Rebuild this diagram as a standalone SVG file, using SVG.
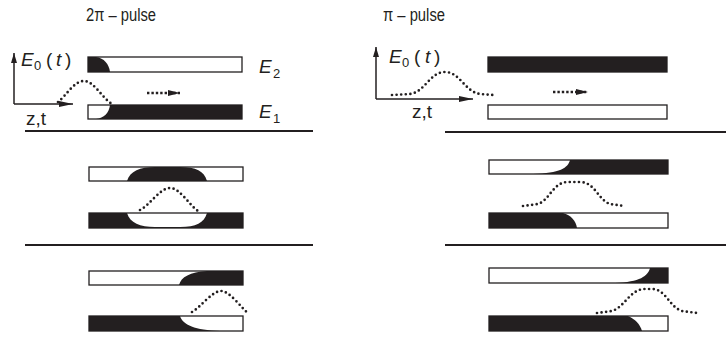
<svg xmlns="http://www.w3.org/2000/svg" width="726" height="338" viewBox="0 0 726 338">
<style>
text{font-family:"Liberation Sans",Arial,sans-serif;fill:#231f20}
.t{font-size:18px}
.l{font-size:19px}
.s{font-size:13px}
.i{font-style:italic}
.bar{fill:none;stroke:#231f20;stroke-width:1.3}
.bk{fill:#231f20}
.wh{fill:#fff}
.pulse{fill:none;stroke:#231f20;stroke-width:2.7;stroke-linecap:round;stroke-dasharray:0 4.6}
.ax{fill:none;stroke:#231f20;stroke-width:1.5}
.sep{stroke:#231f20;stroke-width:2}
.dash{fill:none;stroke:#231f20;stroke-width:2.4;stroke-dasharray:2.4 2}
</style>
<defs>
<marker id="ah" viewBox="0 0 14 6" refX="14" refY="3" markerWidth="14" markerHeight="6" markerUnits="userSpaceOnUse" orient="auto"><path d="M0,0 L14,3 L0,6 Z" fill="#231f20"/></marker>
<marker id="av" viewBox="0 0 10 6" refX="10" refY="3" markerWidth="10" markerHeight="6" markerUnits="userSpaceOnUse" orient="auto"><path d="M0,0 L10,3 L0,6 Z" fill="#231f20"/></marker>
<marker id="ad" viewBox="0 0 12 6" refX="12" refY="3" markerWidth="12" markerHeight="6" markerUnits="userSpaceOnUse" orient="auto"><path d="M0,0 L12,3 L0,6 Z" fill="#231f20"/></marker>
</defs>

<g id="titles">
<text class="t" x="86" y="21" textLength="70" lengthAdjust="spacingAndGlyphs">2π – pulse</text>
<text class="t" x="383" y="21" textLength="62" lengthAdjust="spacingAndGlyphs">π – pulse</text>
</g>

<g id="separators">
<line class="sep" x1="25" y1="131" x2="313" y2="131"/>
<line class="sep" x1="445" y1="132" x2="726" y2="132"/>
<line class="sep" x1="25" y1="245" x2="313" y2="245"/>
<line class="sep" x1="445" y1="245" x2="726" y2="245"/>
</g>

<g id="axes-left">
<path class="ax" d="M14,104 L14,53" marker-end="url(#av)"/>
<path class="ax" d="M14,104 L73,104" marker-end="url(#ah)"/>
<text class="l"><tspan class="i" x="21" y="66">E</tspan><tspan class="s" x="34" y="70">0</tspan><tspan x="46" y="66">(</tspan><tspan class="i" x="56" y="66">t</tspan><tspan x="65" y="66">)</tspan></text>
<text class="l" x="26" y="125">z,t</text>
</g>

<g id="axes-right">
<path class="ax" d="M376,99 L376,47" marker-end="url(#av)"/>
<path class="ax" d="M376,99 L473,99" marker-end="url(#ah)"/>
<text class="l"><tspan class="i" x="389" y="63">E</tspan><tspan class="s" x="402" y="67">0</tspan><tspan x="414" y="63">(</tspan><tspan class="i" x="425" y="63">t</tspan><tspan x="434" y="63">)</tspan></text>
<text class="l" x="412" y="118">z,t</text>
</g>

<g id="levels">
<text class="l"><tspan class="i" x="259" y="73">E</tspan><tspan class="s" x="273" y="78">2</tspan></text>
<text class="l"><tspan class="i" x="259" y="118">E</tspan><tspan class="s" x="273" y="123">1</tspan></text>
</g>

<!-- 2π pulse panel 1 -->
<g id="bar-L1-E2">
<rect class="wh" x="88" y="57" width="154" height="15"/>
<path class="bk" d="M88,57 L96,57 C104,58 109,64 110,72 L88,72 Z"/>
<rect class="bar" x="88" y="57" width="154" height="15"/>
</g>
<g id="bar-L1-E1">
<rect class="wh" x="88" y="105" width="154" height="14"/>
<path class="bk" d="M110,105 L242,105 L242,119 L96,119 C104,118 109,113 110,105 Z"/>
<rect class="bar" x="88" y="105" width="154" height="14"/>
</g>
<!-- 2π pulse panel 2 -->
<g id="bar-L2-E2">
<rect class="wh" x="89" y="167" width="154" height="14"/>
<path class="bk" d="M127,181 C130,171 140,167 155,167 L180,167 C196,167 204,171 207,181 Z"/>
<rect class="bar" x="89" y="167" width="154" height="14"/>
</g>
<g id="bar-L2-E1">
<rect class="bk" x="89" y="213" width="154" height="15"/>
<path class="wh" d="M127,213 C130,223 140,227 155,227 L180,227 C196,227 204,223 207,213 Z"/>
<rect class="bar" x="89" y="213" width="154" height="15"/>
</g>
<!-- 2π pulse panel 3 -->
<g id="bar-L3-E2">
<rect class="wh" x="89" y="271" width="154" height="14"/>
<path class="bk" d="M243,271 L207,271 C190,272 181,277 179,285 L243,285 Z"/>
<rect class="bar" x="89" y="271" width="154" height="14"/>
</g>
<g id="bar-L3-E1">
<rect class="wh" x="89" y="316" width="154" height="15"/>
<path class="bk" d="M89,316 L180,316 C183,325 195,330 220,331 L89,331 Z"/>
<rect class="bar" x="89" y="316" width="154" height="15"/>
</g>

<!-- π pulse panel 1 -->
<g id="bar-R1-E2">
<rect class="bk" x="488" y="57" width="179" height="15"/>
<rect class="bar" x="488" y="57" width="179" height="15"/>
</g>
<g id="bar-R1-E1">
<rect class="wh" x="488" y="105" width="179" height="14"/>
<rect class="bar" x="488" y="105" width="179" height="14"/>
</g>
<!-- π pulse panel 2 -->
<g id="bar-R2-E2">
<rect class="wh" x="489" y="160" width="179" height="14"/>
<path class="bk" d="M570,160 L668,160 L668,174 L533,174 C560,173 568,168 570,160 Z"/>
<rect class="bar" x="489" y="160" width="179" height="14"/>
</g>
<g id="bar-R2-E1">
<rect class="wh" x="489" y="213" width="179" height="15"/>
<path class="bk" d="M489,213 L563,213 C571,215 576,221 577,228 L489,228 Z"/>
<rect class="bar" x="489" y="213" width="179" height="15"/>
</g>
<!-- π pulse panel 3 -->
<g id="bar-R3-E2">
<rect class="wh" x="489" y="268" width="179" height="15"/>
<path class="bk" d="M650,268 L668,268 L668,283 L615,283 C640,282 648,276 650,268 Z"/>
<rect class="bar" x="489" y="268" width="179" height="15"/>
</g>
<g id="bar-R3-E1">
<rect class="wh" x="489" y="316" width="179" height="15"/>
<path class="bk" d="M489,316 L628,316 C635,319 640,324 642,331 L489,331 Z"/>
<rect class="bar" x="489" y="316" width="179" height="15"/>
</g>

<g id="connectors">
<path class="dash" d="M147,93 L180,93" marker-end="url(#ad)"/>
<path class="dash" d="M553,92 L588,92" marker-end="url(#ad)"/>
<path class="pulse" d="M58,102 C66,96 74,81 84,81 C94,81 102,98 112,104"/>
<path class="pulse" d="M392,95 L410,94 C425,92 430,72 445,72 C460,72 465,92 480,94 L493,95"/>
<path class="pulse" d="M140,210 C150,205 160,188 170,188 C180,188 190,206 198,211"/>
<path class="pulse" d="M523,206 L538,204 C550,200 553,182 568,182 L580,182 C595,182 598,200 610,204 L624,206"/>
<path class="pulse" d="M192,312 C200,308 212,291 221,291 C230,291 242,309 249,314"/>
<path class="pulse" d="M597,313 L612,311 C625,307 630,289 645,289 L652,289 C666,289 669,307 682,311 L697,313"/>
</g>
</svg>
